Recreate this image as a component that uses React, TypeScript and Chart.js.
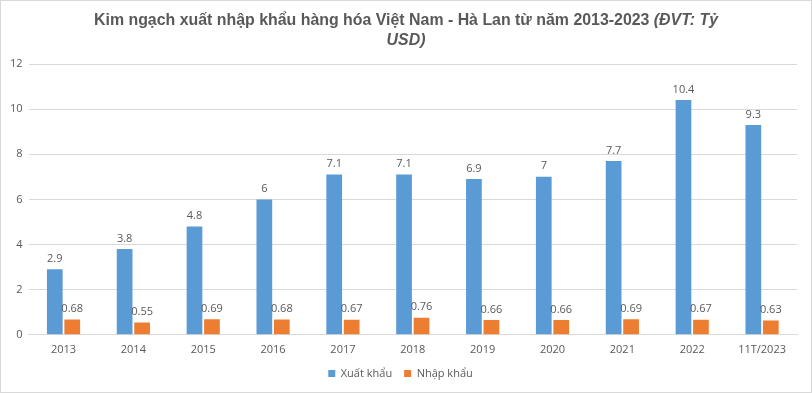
import React, { useEffect, useRef } from "react";
import { Chart, registerables } from "chart.js";

Chart.register(...registerables);

const categories = ["2013", "2014", "2015", "2016", "2017", "2018", "2019", "2020", "2021", "2022", "11T/2023"];
const exportValues = [2.9, 3.8, 4.8, 6, 7.1, 7.1, 6.9, 7, 7.7, 10.4, 9.3];
const importValues = [0.68, 0.55, 0.69, 0.68, 0.67, 0.76, 0.66, 0.66, 0.69, 0.67, 0.63];
const seriesNames = ["Xuất khẩu", "Nhập khẩu"];
const titleMain = "Kim ngạch xuất nhập khẩu hàng hóa Việt Nam - Hà Lan từ năm 2013-2023 ";
const titleUnit1 = "(ĐVT: Tỷ";
const titleUnit2 = "USD)";

const TEXT = "#595959";
const FONT = "'Open Sans', 'Noto Sans', sans-serif";

const titlePlugin = {
  id: "customTitle",
  afterDraw(chart: any) {
    const ctx = chart.ctx;
    ctx.save();
    ctx.fillStyle = TEXT;
    ctx.textBaseline = "middle";
    const bold = "bold 16px 'Liberation Sans Narrow', 'Liberation Sans', Arial, sans-serif";
    const boldIt = "italic bold 16px 'Liberation Sans Narrow', 'Liberation Sans', Arial, sans-serif";
    ctx.font = bold;
    const w1 = ctx.measureText(titleMain).width;
    ctx.font = boldIt;
    const w2 = ctx.measureText(titleUnit1).width;
    const total = w1 + w2;
    const target = 624;
    const sx = Math.min(1, target / total);
    const cx = 405;
    ctx.translate(cx, 0);
    ctx.scale(sx, 1);
    const start = -total / 2;
    ctx.textAlign = "left";
    ctx.font = bold;
    ctx.fillText(titleMain, start, 20);
    ctx.font = boldIt;
    ctx.fillText(titleUnit1, start + w1, 20);
    ctx.textAlign = "center";
    ctx.fillText(titleUnit2, 0, 40);
    ctx.restore();
  },
};

const labelPlugin = {
  id: "barLabels",
  afterDatasetsDraw(chart: any) {
    const ctx = chart.ctx;
    ctx.save();
    ctx.fillStyle = TEXT;
    ctx.font = "11px " + FONT;
    ctx.textAlign = "center";
    ctx.textBaseline = "bottom";
    chart.data.datasets.forEach((ds: any, i: number) => {
      const meta = chart.getDatasetMeta(i);
      meta.data.forEach((bar: any, j: number) => {
        ctx.fillText(String(ds.data[j]), bar.x, bar.y - 5);
      });
    });
    ctx.restore();
  },
};

export default function App() {
  const ref = useRef<HTMLCanvasElement>(null);
  useEffect(() => {
    if (!ref.current) return;
    const chart = new Chart(ref.current, {
      type: "bar",
      data: {
        labels: categories,
        datasets: [
          { label: seriesNames[0], data: exportValues, backgroundColor: "#5B9BD5", categoryPercentage: 0.5, barPercentage: 0.9 },
          { label: seriesNames[1], data: importValues, backgroundColor: "#ED7D31", categoryPercentage: 0.5, barPercentage: 0.9 },
        ],
      },
      options: {
        animation: false,
        responsive: true,
        maintainAspectRatio: false,
        layout: { padding: { top: 63, right: 14, left: 3, bottom: 3 } },
        plugins: {
          title: { display: false },
          tooltip: { enabled: false },
          legend: {
            position: "bottom",
            labels: {
              boxWidth: 7,
              boxHeight: 7,
              color: TEXT,
              font: { size: 11, family: FONT },
              padding: 12,
            },
          },
        },
        scales: {
          x: {
            grid: { display: false },
            border: { color: "#d9d9d9" },
            ticks: { color: TEXT, font: { size: 11, family: FONT }, maxRotation: 0, padding: 0 },
          },
          y: {
            min: 0,
            max: 12,
            ticks: { stepSize: 2, color: TEXT, font: { size: 11, family: FONT }, padding: 6 },
            grid: { color: "#d9d9d9", drawTicks: false },
            border: { display: false },
          },
        },
      },
      plugins: [titlePlugin, labelPlugin],
    });
    return () => chart.destroy();
  }, []);
  return (
    <div style={{ position: "fixed", left: 0, top: 0, width: 812, height: 393, boxSizing: "border-box", border: "1px solid #d9d9d9", background: "#fff" }}>
      <canvas ref={ref} />
    </div>
  );
}
